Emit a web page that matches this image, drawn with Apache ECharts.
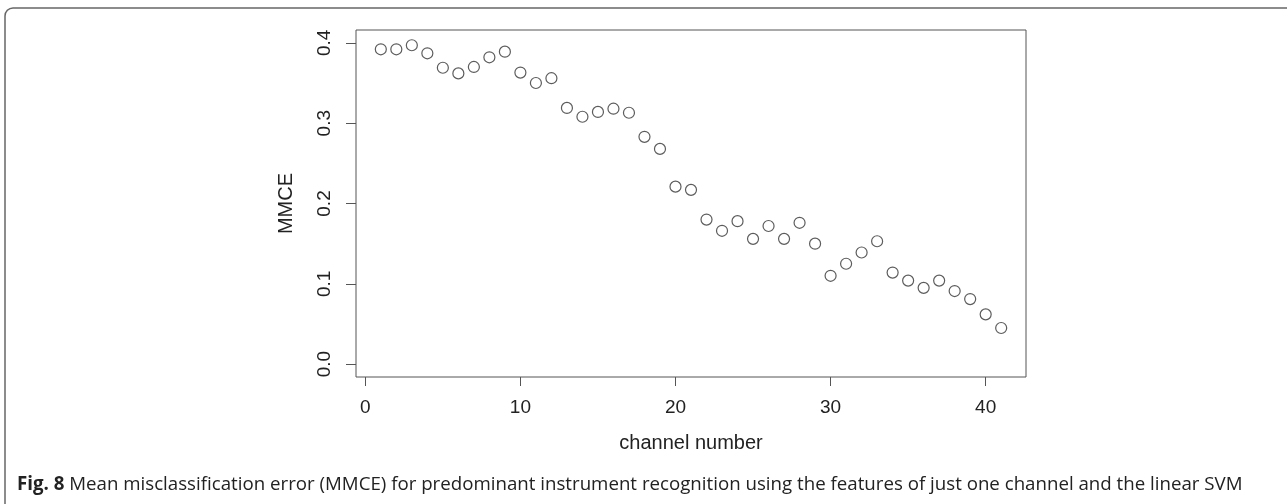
<!DOCTYPE html>
<html>
<head>
<meta charset="utf-8">
<script src="https://cdn.jsdelivr.net/npm/echarts@6/dist/echarts.min.js"></script>
<style>
  html, body { margin: 0; padding: 0; background: #fff; }
  #chart { width: 1287px; height: 504px; }
</style>
</head>
<body>
<div id="chart"></div>
<script>
// channel numbers and mean misclassification error
const channels = [1, 2, 3, 4, 5, 6, 7, 8, 9, 10, 11, 12, 13, 14, 15, 16, 17, 18, 19, 20, 21,
  22, 23, 24, 25, 26, 27, 28, 29, 30, 31, 32, 33, 34, 35, 36, 37, 38, 39, 40, 41];
const mmce = [0.392, 0.392, 0.397, 0.387, 0.369, 0.362, 0.370, 0.382, 0.389, 0.363, 0.350,
  0.356, 0.319, 0.308, 0.314, 0.318, 0.313, 0.283, 0.268, 0.221, 0.217,
  0.180, 0.166, 0.178, 0.156, 0.172, 0.156, 0.176, 0.150, 0.110, 0.125,
  0.139, 0.153, 0.114, 0.104, 0.095, 0.104, 0.091, 0.081, 0.062, 0.045];
const xTicks = [0, 10, 20, 30, 40];
const yTicks = [0, 0.1, 0.2, 0.3, 0.4];

const points = channels.map(function (c, i) { return [c, mmce[i]]; });

const textColor = '#222';
const font = 'Liberation Sans';
const frameStyle = { fill: null, stroke: '#666', lineWidth: 1.5 };

const chart = echarts.init(document.getElementById('chart'));

chart.setOption({
  animation: false,
  backgroundColor: '#fff',
  grid: {
    left: 356,
    top: 30,
    width: 670,
    height: 347,
    show: true,
    borderColor: '#555',
    borderWidth: 1
  },
  xAxis: {
    type: 'value',
    min: -0.6,
    max: 42.6,
    name: 'channel number',
    nameLocation: 'middle',
    nameGap: 56,
    nameTextStyle: { color: textColor, fontFamily: font, fontSize: 20 },
    axisLine: { show: false, onZero: false },
    splitLine: { show: false },
    axisTick: {
      show: true, inside: false, length: 9,
      customValues: xTicks,
      lineStyle: { color: '#555', width: 1 }
    },
    axisLabel: {
      customValues: xTicks,
      margin: 21,
      color: textColor, fontFamily: font, fontSize: 19
    }
  },
  yAxis: {
    type: 'value',
    min: -0.016,
    max: 0.416,
    name: 'MMCE',
    nameLocation: 'middle',
    nameGap: 60,
    nameTextStyle: { color: textColor, fontFamily: font, fontSize: 20 },
    axisLine: { show: false, onZero: false },
    splitLine: { show: false },
    axisTick: {
      show: true, inside: false, length: 10,
      customValues: yTicks,
      lineStyle: { color: '#555', width: 1 }
    },
    axisLabel: {
      customValues: yTicks,
      rotate: 90,
      margin: 22,
      color: textColor, fontFamily: font, fontSize: 19,
      formatter: function (v) { return v.toFixed(1); }
    }
  },
  series: [{
    type: 'scatter',
    data: points,
    symbol: 'circle',
    symbolSize: 11,
    itemStyle: { color: 'rgba(255,255,255,0)', borderColor: '#333', borderWidth: 1.2 }
  }],
  graphic: [
    // figure frame: left and top edges with a rounded corner
    { type: 'line', shape: { x1: 5, y1: 504, x2: 5, y2: 16 }, style: frameStyle },
    { type: 'arc', shape: { cx: 13, cy: 16, r: 8, startAngle: Math.PI, endAngle: Math.PI * 1.5 }, style: frameStyle },
    { type: 'line', shape: { x1: 13, y1: 8, x2: 1287, y2: 8 }, style: frameStyle },
    {
      type: 'text',
      left: 17,
      top: 475,
      style: {
        text: '{b|Fig. 8} Mean misclassification error (MMCE) for predominant instrument recognition using the features of just one channel and the linear SVM',
        fontFamily: 'Open Sans',
        fontSize: 18.7,
        fill: '#222',
        rich: {
          b: { fontFamily: 'Open Sans', fontSize: 18.7, fontWeight: 'bold', fill: '#222' }
        }
      }
    }
  ]
});
</script>
</body>
</html>
